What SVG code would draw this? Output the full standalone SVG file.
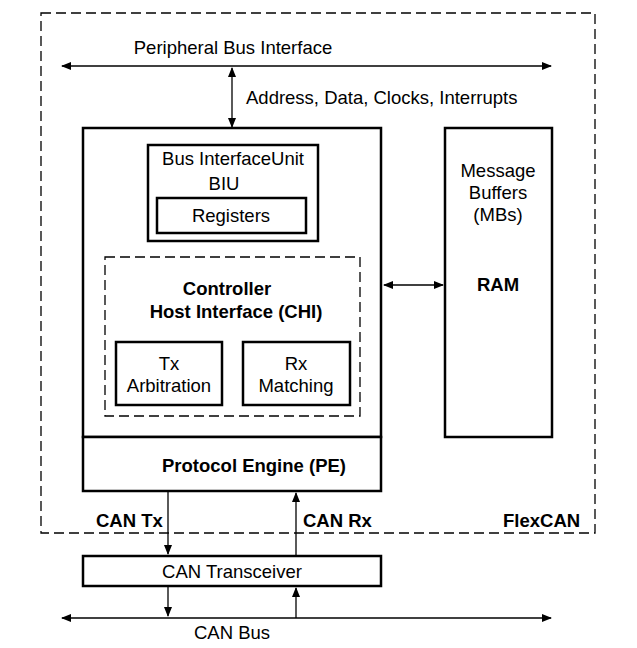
<svg xmlns="http://www.w3.org/2000/svg" width="637" height="648" viewBox="0 0 637 648">
<style>
text{font-family:"Liberation Sans",Arial,sans-serif;font-size:18.5px;fill:#000}
.c{text-anchor:middle}
.b{font-weight:bold}
.box{fill:#fff;stroke:#000;stroke-width:2.5}
.dash{fill:none;stroke:#000;stroke-width:1.3;stroke-dasharray:10,5}
.ln{fill:none;stroke:#000;stroke-width:1.3}
</style>
<defs>
<marker id="ah" viewBox="0 0 10 10" refX="9" refY="5" markerWidth="10" markerHeight="10" markerUnits="userSpaceOnUse" orient="auto-start-reverse">
<path d="M0,1 L10,5 L0,9 Z" fill="#000"/>
</marker>
</defs>
<rect id="flexcan" class="dash" x="41" y="13" width="554" height="520"/>
<g id="connectors">
<line class="ln" x1="62" y1="66" x2="551" y2="66" marker-start="url(#ah)" marker-end="url(#ah)"/>
<line class="ln" x1="232" y1="68" x2="232" y2="127" marker-start="url(#ah)" marker-end="url(#ah)"/>
<line class="ln" x1="384" y1="285" x2="443" y2="285" marker-start="url(#ah)" marker-end="url(#ah)"/>
<line class="ln" x1="168" y1="492" x2="168" y2="554" marker-end="url(#ah)"/>
<line class="ln" x1="296" y1="555" x2="296" y2="493" marker-end="url(#ah)"/>
<line class="ln" x1="168" y1="587" x2="168" y2="616" marker-end="url(#ah)"/>
<line class="ln" x1="296" y1="618" x2="296" y2="588" marker-end="url(#ah)"/>
<line class="ln" x1="62" y1="618" x2="551" y2="618" marker-start="url(#ah)" marker-end="url(#ah)"/>
</g>
<text x="233" y="54" class="c">Peripheral Bus Interface</text>
<text x="246" y="104">Address, Data, Clocks, Interrupts</text>
<g id="host">
<rect class="box" x="83" y="128" width="298" height="309"/>
</g>
<g id="biu">
<rect class="box" x="148" y="145" width="170" height="96"/>
<text x="233" y="165" class="c">Bus InterfaceUnit</text>
<text x="224" y="190" class="c">BIU</text>
</g>
<g id="registers">
<rect class="box" x="157" y="198" width="149" height="35"/>
<text x="231" y="222" class="c">Registers</text>
</g>
<g id="chi">
<rect class="dash" x="105" y="257" width="255" height="159"/>
<text x="227" y="295" class="c b">Controller</text>
<text x="236" y="318" class="c b">Host Interface (CHI)</text>
</g>
<g id="tx">
<rect class="box" x="116" y="342" width="106" height="63"/>
<text x="169" y="370" class="c">Tx</text>
<text x="169" y="392" class="c">Arbitration</text>
</g>
<g id="rx">
<rect class="box" x="243" y="342" width="107" height="63"/>
<text x="296" y="370" class="c">Rx</text>
<text x="296" y="392" class="c">Matching</text>
</g>
<g id="pe">
<rect class="box" x="83" y="437" width="298" height="54"/>
<text x="254" y="472" class="c b">Protocol Engine (PE)</text>
</g>
<g id="ram">
<rect class="box" x="445" y="128" width="107" height="309"/>
<text x="498" y="177" class="c">Message</text>
<text x="498" y="199" class="c">Buffers</text>
<text x="498" y="221" class="c">(MBs)</text>
<text x="498" y="291" class="c b">RAM</text>
</g>
<text x="96" y="527" class="b">CAN Tx</text>
<text x="303" y="527" class="b">CAN Rx</text>
<text x="503" y="527" class="b">FlexCAN</text>
<g id="transceiver">
<rect class="box" x="83" y="556" width="298" height="30"/>
<text x="232" y="578" class="c">CAN Transceiver</text>
</g>
<text x="232" y="639" class="c">CAN Bus</text>
</svg>
